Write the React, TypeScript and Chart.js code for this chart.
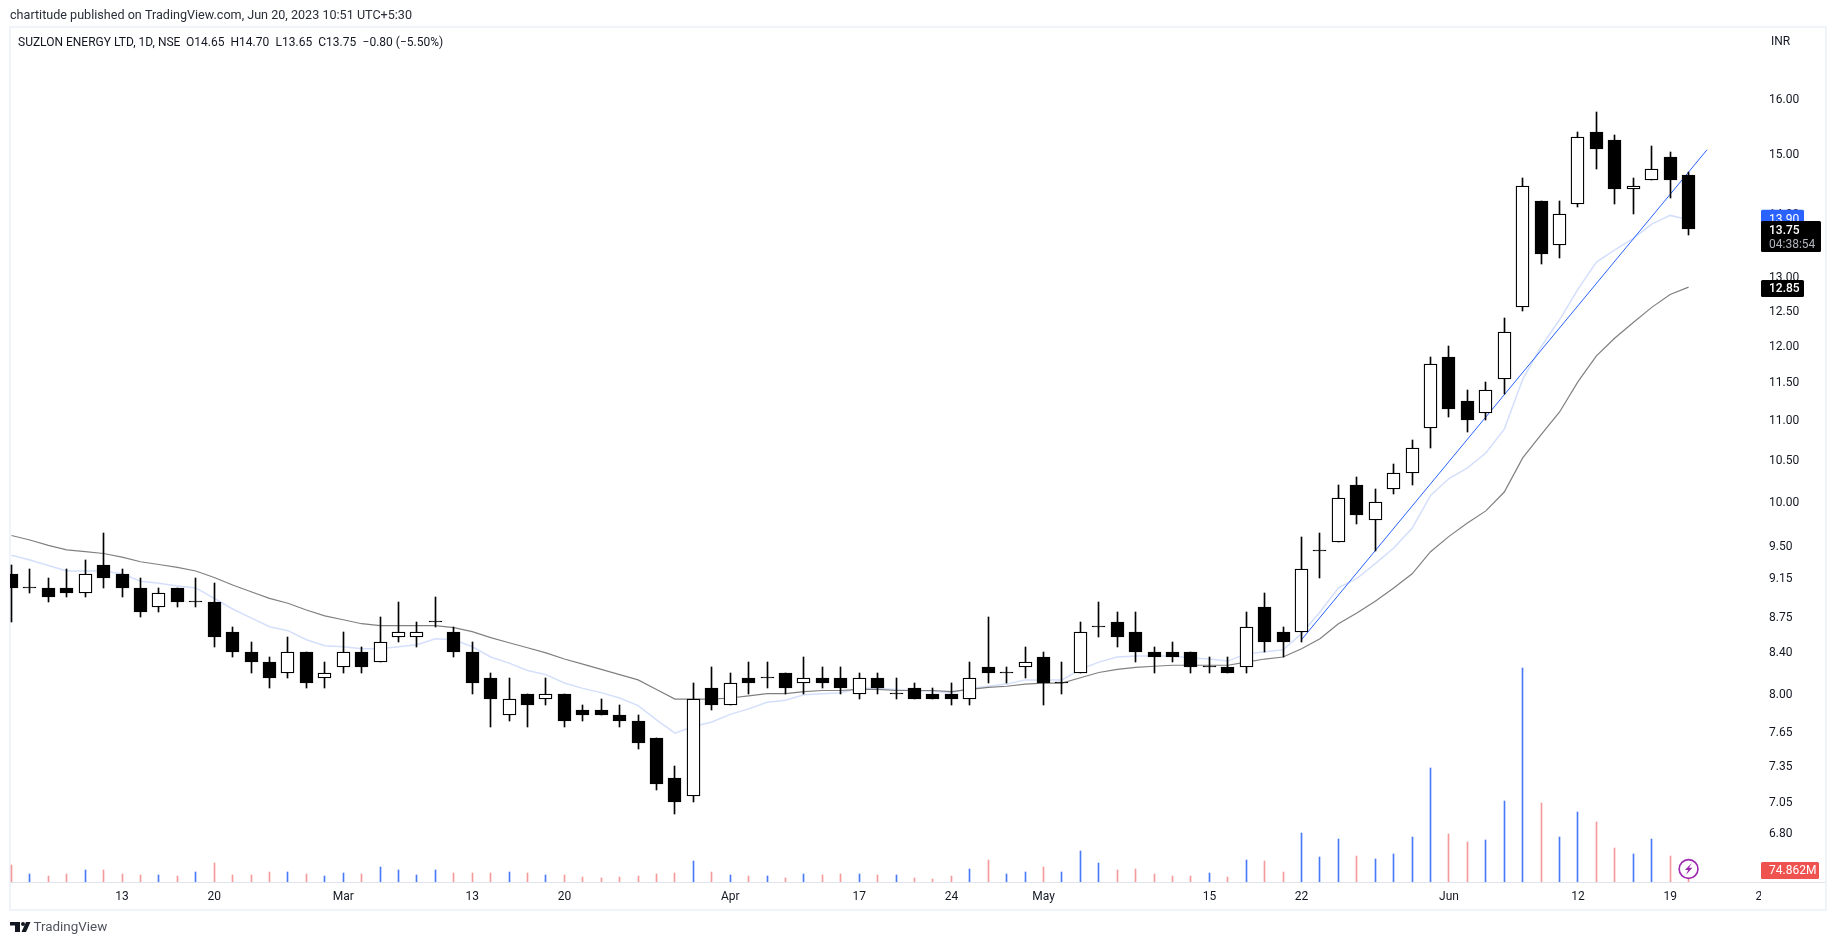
import React, { useEffect, useRef } from "react";
import { Chart, registerables } from "chart.js";

Chart.register(...registerables);

const opens = [9.20,9.05,9.05,9.05,9.00,9.30,9.20,9.05,8.85,9.05,8.90,8.90,8.60,8.40,8.30,8.20,8.40,8.15,8.25,8.40,8.30,8.55,8.55,8.70,8.60,8.40,8.15,7.80,8.00,7.95,8.00,7.85,7.85,7.80,7.75,7.60,7.25,7.10,8.05,7.90,8.15,8.15,8.20,8.10,8.15,8.15,8.00,8.15,8.00,8.05,8.00,8.00,7.95,8.25,8.20,8.25,8.35,8.10,8.20,8.65,8.70,8.60,8.40,8.40,8.40,8.25,8.25,8.25,8.85,8.60,8.60,9.45,9.55,10.20,9.80,10.15,10.35,10.90,11.85,11.25,11.10,11.55,12.55,14.20,13.50,14.15,15.40,15.25,14.40,14.55,14.95,14.65];
const highs = [9.30,9.25,9.15,9.25,9.35,9.65,9.25,9.15,9.05,9.05,9.15,9.10,8.65,8.50,8.35,8.55,8.40,8.30,8.60,8.45,8.75,8.90,8.70,8.95,8.65,8.50,8.20,8.15,8.00,8.15,8.00,7.90,7.95,7.90,7.80,7.60,7.35,8.10,8.25,8.20,8.30,8.30,8.20,8.35,8.25,8.25,8.20,8.20,8.15,8.10,8.05,8.10,8.30,8.75,8.25,8.45,8.40,8.30,8.70,8.90,8.80,8.80,8.45,8.50,8.40,8.35,8.35,8.80,9.00,8.65,9.60,9.65,10.20,10.30,10.15,10.45,10.75,11.85,12.00,11.40,11.50,12.40,14.60,14.20,14.20,15.40,15.75,15.35,14.60,15.15,15.05,14.70];
const lows = [8.70,9.00,8.90,8.95,8.95,9.05,8.95,8.75,8.80,8.85,8.85,8.45,8.35,8.20,8.05,8.15,8.05,8.05,8.20,8.20,8.30,8.50,8.45,8.65,8.35,8.00,7.70,7.75,7.70,7.90,7.70,7.75,7.80,7.70,7.50,7.15,6.95,7.05,7.85,7.90,8.00,8.05,8.00,8.00,8.05,8.00,7.95,8.00,7.95,7.95,7.95,7.90,7.90,8.10,8.10,8.15,7.90,8.00,8.20,8.55,8.45,8.30,8.20,8.30,8.20,8.20,8.20,8.20,8.40,8.35,8.50,9.15,9.55,9.75,9.45,10.10,10.20,10.65,11.05,10.85,11.00,11.35,12.50,13.20,13.30,14.10,14.75,14.15,14.00,14.55,14.25,13.65];
const closes = [9.05,9.05,8.95,9.00,9.20,9.15,9.05,8.80,9.00,8.90,8.90,8.55,8.40,8.30,8.15,8.40,8.10,8.20,8.40,8.25,8.50,8.60,8.60,8.70,8.40,8.10,7.95,7.95,7.90,8.00,7.75,7.80,7.80,7.75,7.55,7.20,7.05,7.95,7.90,8.10,8.10,8.15,8.05,8.15,8.10,8.05,8.15,8.05,8.00,7.95,7.95,7.95,8.15,8.20,8.20,8.30,8.10,8.10,8.60,8.65,8.55,8.40,8.35,8.35,8.25,8.25,8.20,8.65,8.50,8.50,9.25,9.45,10.05,9.85,10.00,10.35,10.65,11.75,11.15,11.00,11.40,12.20,14.45,13.35,14.00,15.30,15.10,14.40,14.45,14.75,14.55,13.75];
const volumesM = [106,50,37,50,75,77,50,44,44,37,62,119,44,44,62,62,50,37,56,50,94,75,44,75,56,56,56,62,56,44,44,31,25,31,37,50,56,131,62,44,37,37,25,50,44,50,50,44,44,25,19,37,81,137,50,62,94,62,193,119,75,81,50,37,37,56,31,137,131,62,306,156,268,162,144,175,281,711,300,250,262,505,1335,493,281,437,374,212,175,268,162,74.862];
const maSlow = [9.62,9.57,9.51,9.46,9.44,9.42,9.38,9.33,9.30,9.27,9.23,9.16,9.08,9.01,8.94,8.89,8.82,8.76,8.72,8.68,8.66,8.66,8.66,8.66,8.64,8.60,8.54,8.49,8.44,8.39,8.33,8.28,8.23,8.18,8.13,8.04,7.95,7.95,7.95,7.96,7.98,8.00,8.00,8.02,8.03,8.03,8.04,8.04,8.03,8.03,8.03,8.02,8.04,8.06,8.07,8.09,8.10,8.10,8.15,8.20,8.23,8.25,8.26,8.27,8.27,8.27,8.27,8.30,8.33,8.35,8.43,8.53,8.68,8.79,8.91,9.05,9.20,9.44,9.61,9.76,9.90,10.12,10.53,10.82,11.11,11.51,11.86,12.11,12.33,12.55,12.74,12.85];
const maFast = [9.40,9.35,9.29,9.23,9.23,9.23,9.20,9.12,9.10,9.07,9.05,8.94,8.83,8.74,8.65,8.61,8.52,8.46,8.45,8.43,8.43,8.45,8.47,8.53,8.52,8.45,8.35,8.29,8.22,8.18,8.10,8.05,8.01,7.96,7.89,7.76,7.64,7.70,7.74,7.81,7.86,7.92,7.94,7.99,8.00,8.01,8.05,8.05,8.04,8.03,8.02,8.01,8.05,8.07,8.09,8.13,8.13,8.13,8.23,8.30,8.35,8.36,8.36,8.36,8.34,8.33,8.31,8.38,8.40,8.42,8.58,8.80,9.05,9.15,9.31,9.48,9.70,10.08,10.28,10.41,10.59,10.89,11.54,11.99,12.37,12.82,13.23,13.42,13.60,13.83,13.97,13.90];
const trendIndex = [70, 92];
const trendPrice = [8.52, 15.08];
const priceTicks = [17,16,15,14,13,12.5,12,11.5,11,10.5,10,9.5,9.15,8.75,8.4,8,7.65,7.35,7.05,6.8];
const dateTickIndex = [6,11,18,25,30,39,46,51,56,65,70,78,85,90,95];
const dateTickLabels = ["13","20","Mar","13","20","Apr","17","24","May","15","22","Jun","12","19","26"];

const FONT = "Roboto, sans-serif";
const INK = "#131722";
const X_MIN = -0.081, X_MAX = 94.93;
const PRICE_MAX = 17.38, PRICE_MIN = 6.4237;

const snapBars = {
  id: "snapBars",
  afterDatasetsUpdate(chart: any) {
    chart.data.datasets.forEach((ds: any, di: number) => {
      if (ds.type !== "bar") return;
      chart.getDatasetMeta(di).data.forEach((el: any) => {
        el.x = Math.floor(el.x) + 0.5;
        const top = Math.round(Math.min(el.y, el.base));
        let bottom = Math.round(Math.max(el.y, el.base));
        if (bottom <= top) bottom = top + 1;
        el.y = top;
        el.base = bottom;
      });
    });
  },
};

const chrome = {
  id: "chrome",
  beforeDraw(chart: any) {
    const c = chart.ctx;
    c.save();
    c.fillStyle = "#ffffff";
    c.fillRect(0, 0, 1835, 945);
    c.strokeStyle = "#f0f3fa";
    c.lineWidth = 2;
    c.strokeRect(10, 27, 1816, 883);
    c.fillStyle = "#e0e3eb";
    c.fillRect(10, 882, 1815, 1);
    c.restore();
  },
  beforeDatasetsDraw(chart: any) {
    // the price scale hides whatever part of a date label reaches it
    const c = chart.ctx;
    c.save();
    c.fillStyle = "#ffffff";
    c.fillRect(chart.chartArea.right, 884, 64, 25);
    c.restore();
  },
  afterDraw(chart: any) {
    const c = chart.ctx;
    const right = chart.chartArea.right;
    const yP = chart.scales.y;
    const yV = chart.scales.yVol;
    const text = (s: string, x: number, y: number, font: string, color: string) => {
      c.font = font;
      c.fillStyle = color;
      c.textAlign = "left";
      c.textBaseline = "middle";
      c.fillText(s, x, y);
    };
    const box = (x: number, y: number, w: number, h: number, color: string) => {
      c.fillStyle = color;
      c.beginPath();
      c.roundRect(x, y, w, h, 1.5);
      c.fill();
    };
    c.save();
    const f12 = `12px ${FONT}`;
    // header
    text("chartitude published on TradingView.com, Jun 20, 2023 10:51 UTC+5:30", 10, 16, `12.6px ${FONT}`, "#2a2e39");
    const heads: [string, number][] = [
      ["SUZLON ENERGY LTD, 1D, NSE", 18],
      ["O14.65", 186],
      ["H14.70", 230.5],
      ["L13.65", 275.6],
      ["C13.75", 318.3],
      ["\u22120.80 (\u22125.50%)", 362.6],
    ];
    heads.forEach(([s, x]) => text(s, x, 43, f12, INK));

    // price scale currency, over the clipped top tick
    c.fillStyle = "#ffffff";
    c.fillRect(right + 1, 29, 63, 22);
    text("INR", 1771, 42, f12, INK);

    // last-value tags
    const yFast = yP.getPixelForValue(maFast[maFast.length - 1]);
    box(right, yFast - 10, 43, 20, "#2962ff");
    text("13.90", 1769, yFast, f12, "#ffffff");
    const yClose = yP.getPixelForValue(closes[closes.length - 1]);
    box(right, yClose - 8, 60, 31, "#000000");
    text("13.75", 1769, yClose + 2, `500 12px ${FONT}`, "#ffffff");
    text("04:38:54", 1769, yClose + 16, f12, "#b2b5be");
    const ySlow = yP.getPixelForValue(maSlow[maSlow.length - 1]);
    box(right, ySlow - 7, 43, 17, "#000000");
    text("12.85", 1769, ySlow + 2, `500 12px ${FONT}`, "#ffffff");
    const yVolume = yV.getPixelForValue(volumesM[volumesM.length - 1]);
    box(right, yVolume - 8, 58, 17, "#ef5350");
    text("74.862M", 1769, yVolume + 1, f12, "#ffffff");

    // lightning mark on the last bar
    const ix = chart.scales.x.getPixelForValue(91);
    const iy = 869;
    c.beginPath();
    c.arc(ix, iy, 9.4, 0, Math.PI * 2);
    c.fillStyle = "#ffffff";
    c.fill();
    c.lineWidth = 1.6;
    c.strokeStyle = "#9c27b0";
    c.stroke();
    c.beginPath();
    c.moveTo(ix + 3.2, iy - 6);
    c.lineTo(ix - 3.6, iy + 1);
    c.lineTo(ix - 0.4, iy + 1);
    c.lineTo(ix - 2.6, iy + 6);
    c.lineTo(ix + 3.8, iy - 1.2);
    c.lineTo(ix + 0.5, iy - 1.2);
    c.closePath();
    c.fillStyle = "#9c27b0";
    c.fill();

    // brand mark
    c.fillStyle = "#131722";
    c.fillRect(10, 922, 10, 3.5);
    c.fillRect(15, 922, 5, 10);
    c.beginPath();
    c.arc(23, 924, 2, 0, Math.PI * 2);
    c.fill();
    c.beginPath();
    c.moveTo(26, 922);
    c.lineTo(30.5, 922);
    c.lineTo(26, 932);
    c.lineTo(21.5, 932);
    c.closePath();
    c.fill();
    text("TradingView", 33.5, 928, `13.4px ${FONT}`, "#50535e");
    c.restore();
  },
};

export default function App() {
  const ref = useRef<HTMLCanvasElement>(null);
  useEffect(() => {
    const idx = closes.map((_, i) => i);
    const chart = new Chart(ref.current as HTMLCanvasElement, {
      type: "bar",
      data: {
        datasets: [
          {
            type: "bar",
            label: "Body",
            yAxisID: "y",
            order: 1,
            data: idx.map((i) => ({ x: i, y: [opens[i], closes[i]] })),
            backgroundColor: idx.map((i) => (closes[i] > opens[i] ? "#ffffff" : "#000000")),
            borderColor: "#000000",
            borderWidth: 1.3,
            borderSkipped: false,
            barThickness: 13,
            minBarLength: 1,
            grouped: false,
          },
          {
            type: "bar",
            label: "Wick",
            yAxisID: "y",
            order: 2,
            data: idx.map((i) => ({ x: i, y: [lows[i], highs[i]] })),
            backgroundColor: "#000000",
            borderWidth: 0,
            barThickness: 1,
            grouped: false,
          },
          {
            type: "line",
            label: "Trend",
            yAxisID: "y",
            order: 3,
            data: trendIndex.map((x, i) => ({ x, y: trendPrice[i] })),
            borderColor: "#2962ff",
            borderWidth: 1,
            pointRadius: 0,
            tension: 0,
          },
          {
            type: "line",
            label: "MA slow",
            yAxisID: "y",
            order: 4,
            data: idx.map((i) => ({ x: i, y: maSlow[i] })),
            borderColor: "#808080",
            borderWidth: 1.2,
            pointRadius: 0,
            tension: 0,
          },
          {
            type: "line",
            label: "MA fast",
            yAxisID: "y",
            order: 5,
            data: idx.map((i) => ({ x: i, y: maFast[i] })),
            borderColor: "#d4dffb",
            borderWidth: 1.5,
            pointRadius: 0,
            tension: 0,
          },
          {
            type: "bar",
            label: "Volume",
            yAxisID: "yVol",
            order: 6,
            data: idx.map((i) => ({ x: i, y: volumesM[i] })),
            backgroundColor: idx.map((i) => (closes[i] >= opens[i] ? "#4a7bf7" : "#f59a9a")),
            borderWidth: 0,
            barThickness: 1,
            grouped: false,
          },
        ] as any,
      },
      options: {
        animation: false,
        responsive: false,
        devicePixelRatio: 1,
        layout: { padding: { left: 10, top: 28, right: 10, bottom: 35 } },
        plugins: { legend: { display: false }, tooltip: { enabled: false } },
        scales: {
          x: {
            type: "linear",
            offset: false,
            min: X_MIN,
            max: X_MAX,
            border: { display: false },
            grid: { display: false, drawTicks: false },
            afterBuildTicks(s: any) {
              s.ticks = dateTickIndex.map((value) => ({ value }));
            },
            afterFit(s: any) {
              s.height = 28;
            },
            ticks: {
              autoSkip: false,
              maxRotation: 0,
              padding: 8,
              color: INK,
              font: { family: FONT, size: 12 },
              callback: (v: any) => dateTickLabels[dateTickIndex.indexOf(v)] ?? "",
            },
          },
          y: {
            type: "logarithmic",
            position: "right",
            min: PRICE_MIN,
            max: PRICE_MAX,
            z: 1,
            border: { display: false },
            grid: { display: false, drawTicks: false },
            afterBuildTicks(s: any) {
              s.ticks = priceTicks.map((value) => ({ value }));
            },
            afterFit(s: any) {
              s.width = 64;
            },
            ticks: {
              autoSkip: false,
              padding: 8,
              labelOffset: 1,
              color: INK,
              font: { family: FONT, size: 12 },
              callback: (v: any) => Number(v).toFixed(2),
            },
          },
          yVol: {
            type: "linear",
            display: false,
            min: 0,
            max: 5330,
          },
        },
      } as any,
      plugins: [snapBars, chrome],
    });
    return () => chart.destroy();
  }, []);
  return (
    <canvas
      ref={ref}
      width={1835}
      height={945}
      style={{ position: "absolute", left: 0, top: 0, width: 1835, height: 945 }}
    />
  );
}
